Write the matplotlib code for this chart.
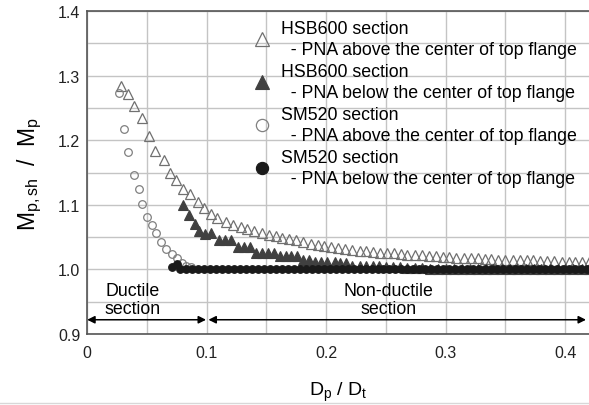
import matplotlib
matplotlib.use('Agg')
import matplotlib.pyplot as plt
from matplotlib.lines import Line2D
from matplotlib.ticker import MultipleLocator

plt.rcParams['font.family'] = ['Liberation Sans', 'DejaVu Sans']
plt.rcParams['mathtext.fontset'] = 'custom'
plt.rcParams['mathtext.rm'] = 'Liberation Sans'
plt.rcParams['mathtext.it'] = 'Liberation Sans'

# --- data ---
# HSB600, PNA above the center of top flange (open triangles)
hsb_above_x = [0.028, 0.034, 0.039, 0.046, 0.052, 0.057, 0.064, 0.069, 0.074, 0.080,
               0.086, 0.093, 0.098, 0.104, 0.109, 0.116, 0.122, 0.129, 0.134, 0.140,
               0.146, 0.152, 0.158, 0.163, 0.169, 0.175, 0.181, 0.187, 0.193, 0.198,
               0.204, 0.210, 0.216, 0.222, 0.228, 0.233, 0.239, 0.245, 0.251, 0.257,
               0.263, 0.268, 0.274, 0.280, 0.286, 0.292, 0.298, 0.303, 0.309, 0.315,
               0.321, 0.327, 0.333, 0.338, 0.344, 0.350, 0.356, 0.362, 0.368, 0.373,
               0.379, 0.385, 0.391, 0.397, 0.403, 0.408, 0.414, 0.420]
hsb_above_y = [1.284, 1.271, 1.253, 1.234, 1.206, 1.183, 1.170, 1.149, 1.139, 1.124,
               1.117, 1.105, 1.095, 1.086, 1.079, 1.074, 1.069, 1.066, 1.062, 1.059,
               1.057, 1.054, 1.052, 1.049, 1.047, 1.045, 1.043, 1.040, 1.038, 1.036,
               1.034, 1.033, 1.032, 1.030, 1.029, 1.028, 1.027, 1.026, 1.025, 1.025,
               1.024, 1.023, 1.022, 1.022, 1.021, 1.020, 1.019, 1.019, 1.018, 1.018,
               1.017, 1.017, 1.016, 1.016, 1.015, 1.015, 1.015, 1.014, 1.014, 1.014,
               1.013, 1.013, 1.013, 1.012, 1.012, 1.012, 1.012, 1.011]

# HSB600, PNA below the center of top flange (filled triangles)
hsb_below_x = [0.080, 0.085, 0.090, 0.094, 0.099, 0.104, 0.110, 0.115, 0.120, 0.126,
               0.131, 0.136, 0.141, 0.146, 0.151, 0.156, 0.161, 0.166, 0.171, 0.176,
               0.181, 0.186, 0.191, 0.196, 0.201, 0.207, 0.212, 0.217, 0.222, 0.228,
               0.233, 0.239, 0.244, 0.250, 0.256, 0.262, 0.268, 0.274, 0.280, 0.287,
               0.294, 0.300, 0.307, 0.314, 0.320, 0.327, 0.334, 0.340, 0.347, 0.354,
               0.360, 0.367, 0.374, 0.380, 0.387, 0.394, 0.400, 0.407, 0.414, 0.420]
hsb_below_y = [1.099, 1.085, 1.070, 1.060, 1.055, 1.056, 1.046, 1.046, 1.045, 1.034,
               1.034, 1.034, 1.026, 1.026, 1.026, 1.025, 1.021, 1.021, 1.021, 1.020,
               1.015, 1.015, 1.011, 1.011, 1.011, 1.011, 1.010, 1.010, 1.006, 1.006,
               1.006, 1.006, 1.005, 1.004, 1.003, 1.003, 1.002, 1.002, 1.002, 1.001,
               1.001, 1.001, 1.001, 1.001, 1.001, 1.001, 1.001, 1.001, 1.001, 1.001,
               1.001, 1.001, 1.001, 1.001, 1.001, 1.001, 1.001, 1.001, 1.001, 1.001]

# SM520, PNA above the center of top flange (open circles)
sm_above_x = [0.027, 0.031, 0.034, 0.039, 0.043, 0.046, 0.050, 0.054, 0.058, 0.062,
              0.066, 0.071, 0.075, 0.079, 0.083, 0.087]
sm_above_y = [1.273, 1.218, 1.182, 1.146, 1.124, 1.101, 1.081, 1.068, 1.057, 1.043,
              1.032, 1.024, 1.017, 1.010, 1.006, 1.003]

# SM520, PNA below the center of top flange (filled circles)
sm_below_x = [0.071, 0.075, 0.078, 0.083, 0.088, 0.093, 0.098, 0.103, 0.108, 0.113,
              0.118, 0.123, 0.128, 0.133, 0.138, 0.143, 0.148, 0.153, 0.158, 0.163,
              0.168, 0.173, 0.178, 0.183, 0.188, 0.193, 0.198, 0.203, 0.208, 0.213,
              0.218, 0.223, 0.228, 0.233, 0.238, 0.243, 0.248, 0.253, 0.258, 0.263,
              0.268, 0.273, 0.278, 0.283, 0.288, 0.293, 0.298, 0.303, 0.308, 0.313,
              0.318, 0.323, 0.328, 0.333, 0.338, 0.343, 0.348, 0.353, 0.358, 0.363,
              0.368, 0.373, 0.378, 0.383, 0.388, 0.393, 0.398, 0.403, 0.408, 0.413,
              0.418]
sm_below_y = [1.004, 1.008, 1.0, 1.0, 1.0, 1.0, 1.0, 1.0, 1.0, 1.0,
              1.0, 1.0, 1.0, 1.0, 1.0, 1.0, 1.0, 1.0, 1.0, 1.0,
              1.0, 1.0, 1.0, 1.0, 1.0, 1.0, 1.0, 1.0, 1.0, 1.0,
              1.0, 1.0, 1.0, 1.0, 1.0, 1.0, 1.0, 1.0, 1.0, 1.0,
              1.0, 1.0, 1.0, 1.0, 1.0, 1.0, 1.0, 1.0, 1.0, 1.0,
              1.0, 1.0, 1.0, 1.0, 1.0, 1.0, 1.0, 1.0, 1.0, 1.0,
              1.0, 1.0, 1.0, 1.0, 1.0, 1.0, 1.0, 1.0, 1.0, 1.0,
              1.0]

labels = ["HSB600 section\n  - PNA above the center of top flange",
          "HSB600 section\n  - PNA below the center of top flange",
          "SM520 section\n  - PNA above the center of top flange",
          "SM520 section\n  - PNA below the center of top flange"]

fig = plt.figure(figsize=(5.89, 4.06), dpi=100)
ax = fig.add_axes([0.148, 0.175, 0.852, 0.795])

ax.plot(hsb_above_x, hsb_above_y, ls='none', marker='^', ms=6.5, mfc='none',
        mec='#707070', mew=0.9, label=labels[0])
ax.plot(hsb_below_x, hsb_below_y, ls='none', marker='^', ms=6.5, mfc='#404040',
        mec='#404040', mew=0.8, label=labels[1])
ax.plot(sm_above_x, sm_above_y, ls='none', marker='o', ms=5.5, mfc='none',
        mec='#808080', mew=0.9, label=labels[2])
ax.plot(sm_below_x, sm_below_y, ls='none', marker='o', ms=5.5, mfc='#1a1a1a',
        mec='#1a1a1a', mew=0.8, label=labels[3])

ax.set_xlim(0, 0.42)
ax.set_ylim(0.9, 1.4)
ax.xaxis.set_minor_locator(MultipleLocator(0.05))
ax.yaxis.set_minor_locator(MultipleLocator(0.05))
ax.set_xticks([0, 0.1, 0.2, 0.3, 0.4])
ax.set_xticklabels(['0', '0.1', '0.2', '0.3', '0.4'])
ax.set_yticks([0.9, 1.0, 1.1, 1.2, 1.3, 1.4])
ax.set_yticklabels(['0.9', '1.0', '1.1', '1.2', '1.3', '1.4'])
ax.grid(True, which='both', color='#c4c4c4', lw=1.0)
ax.set_axisbelow(True)
ax.tick_params(which='both', length=0, labelsize=11.5, colors='#222222')
ax.tick_params(axis='x', pad=8)
ax.tick_params(axis='y', pad=5)
for s in ['left', 'bottom', 'top']:
    ax.spines[s].set_color('#555555')
    ax.spines[s].set_linewidth(1.2)
ax.spines['right'].set_visible(False)

ax.set_xlabel(r'D$_\mathregular{p}$ / D$_\mathregular{t}$', fontsize=14, labelpad=14)
ax.set_ylabel(r'M$_\mathregular{p,sh}$  /  M$_\mathregular{p}$', fontsize=16.5, labelpad=10)

leg = ax.legend(loc='upper left', bbox_to_anchor=(0.305, 1.01), frameon=False,
                fontsize=12.8, markerscale=1.6, handlelength=1.0,
                handletextpad=0.6, labelspacing=0.3, borderpad=0.2)
for t in leg.get_texts():
    t.set_linespacing(1.28)

# ductile / non-ductile ranges
ax.annotate('', xy=(0.0, 0.922), xytext=(0.0995, 0.922),
            arrowprops=dict(arrowstyle='<|-|>', color='black', lw=1.1,
                            mutation_scale=11, shrinkA=0, shrinkB=0))
ax.annotate('', xy=(0.1015, 0.922), xytext=(0.4175, 0.922),
            arrowprops=dict(arrowstyle='<|-|>', color='black', lw=1.1,
                            mutation_scale=11, shrinkA=0, shrinkB=0))
ax.text(0.038, 0.953, 'Ductile\nsection', ha='center', va='center',
        fontsize=12.8, linespacing=1.05)
ax.text(0.252, 0.953, 'Non-ductile\nsection', ha='center', va='center',
        fontsize=12.8, linespacing=1.05)

fig.add_artist(Line2D([0, 1], [0.004, 0.004], transform=fig.transFigure,
                      color='#d8d8d8', lw=1.0))

fig.savefig('out.png', dpi=100, facecolor='white')
